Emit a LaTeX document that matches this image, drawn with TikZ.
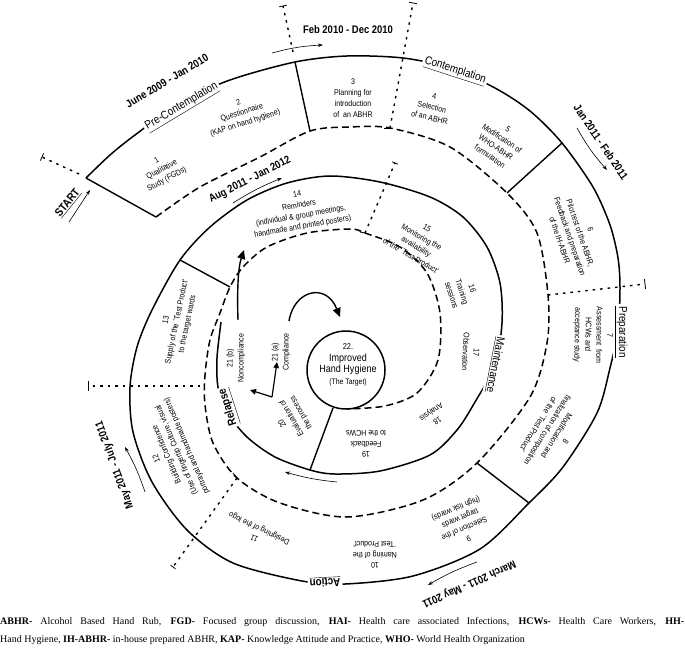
\documentclass[tikz,border=0pt]{standalone}
\usepackage{fontspec}
\setmainfont{Liberation Serif}
\newfontfamily\nsf[FakeStretch=0.86]{Liberation Sans}
\usetikzlibrary{arrows.meta,calc}
\begin{document}
\begin{tikzpicture}[x=1pt,y=-1pt,
  spiral/.style={line width=1.5pt, line join=round},
  dashline/.style={line width=1.5pt, dash pattern=on 7pt off 4pt},
  dotline/.style={line width=1.4pt, dash pattern=on 2.5pt off 5pt},
  radial/.style={line width=1.4pt},
  tbar/.style={line width=0.8pt},
  stage/.style={font=\nsf\fontsize{8.2}{10.8}\selectfont, align=center, inner sep=0pt},
  datelbl/.style={font=\nsf\bfseries\fontsize{11}{13}\selectfont, inner sep=1pt},
  phase/.style={font=\nsf\fontsize{11.5}{13}\selectfont, fill=white, inner sep=2pt},
  phasebf/.style={font=\nsf\bfseries\fontsize{11.5}{13}\selectfont, fill=white, inner sep=2pt},
  datearrow/.style={line width=0.6pt, -{Stealth[length=5pt,width=3.5pt]}},
  bigarrow/.style={line width=1.4pt, -{Triangle[length=9pt,width=8pt]}},
  midarrow/.style={line width=1.2pt, -{Triangle[length=6pt,width=5.5pt]}},
  legend/.style={anchor=west, font=\fontsize{10}{12}\selectfont, inner sep=0pt},
]
\fill[white] (0,0) rectangle (685,655);
\useasboundingbox (0,0) rectangle (685,655);

% key points
\coordinate (s0) at (86,178);
\coordinate (s23) at (295,62);
\coordinate (s56) at (562,143);
\coordinate (s67) at (620,288);
\coordinate (s89) at (529,503);
\coordinate (s1314) at (180,260);
\coordinate (s1920) at (310,470);
\coordinate (d0) at (156,217);
\coordinate (d23) at (310,131);
\coordinate (d34) at (390,128);
\coordinate (d56) at (507,193);
\coordinate (d67) at (548,295);
\coordinate (d89) at (477,463);
\coordinate (d1112) at (237,478);
\coordinate (d1213) at (200,386);
\coordinate (d1314) at (230,287);
\coordinate (d1415) at (365,233);
\coordinate (dend) at (347,409);

% solid spiral
\draw[spiral] plot[smooth, tension=0.5] coordinates {(s0) (110,155) (135,135) (180,103) (230,80) (s23) (347,56) (403,58) (450,68) (495,88) (530,111) (s56) (593,187) (610,225) (618,258) (s67) (618,330) (610,368) (597,413) (563,467) (s89) (480,549) (413,576) (345,584) (302,581) (233,563) (187,530) (152,482) (133,432) (130,387) (137,347) (152,310) (s1314) (210,227) (247,200) (287,183) (330,176) (380,182) (430,197) (463,217) (487,247) (500,283) (502,323) (495,365) (475,402) (457,430) (430,455) (380,471) (335,474) (s1920) (275,457) (247,437) (227,412) (218,387) (217,358) (221,322)};

% dashed spiral
\draw[dashline] plot[smooth, tension=0.5] coordinates {(d0) (200,187) (260,157) (d23) (350,127) (d34) (450,147) (d56) (537,233) (d67) (547,343) (530,397) (d89) (423,500) (347,517) (280,503) (d1112) (213,443) (205,405) (205,375) (210,340) (220,313) (d1314) (243,267) (267,247) (307,233) (350,229) (d1415) (400,247) (427,273) (440,313) (438,360) (417,393) (385,406) (dend)};

% central target
\node[draw, circle, line width=1.5pt, minimum size=78pt, inner sep=0pt] (c22) at (346,370) {};
\node[font=\nsf\fontsize{10.5}{11.5}\selectfont, align=center, inner sep=0pt] (t22) at (348,365)
  {{\fontsize{8.5}{10}\selectfont 22.}\\Improved\\Hand Hygiene\\{\fontsize{8}{10}\selectfont (The Target)}};

% solid radial dividers
\draw[radial] (s0) -- (d0);
\draw[radial] (s23) -- (d23);
\draw[radial] (s56) -- (d56);
\draw[radial] (d89) -- (s89);
\draw[radial] (s1314) -- (d1314);
\coordinate (c1920) at (333,408);
\draw[radial] (c1920) -- (s1920);

% dotted dividers with end bars
\coordinate (st1) at (79,174); \coordinate (st2) at (42,157);
\draw[dotline] (st1) -- (st2);
\draw[tbar] ($(st2)!4pt!90:(st1)$) -- ($(st2)!4pt!-90:(st1)$);
\coordinate (u23) at (293,52); \coordinate (t23) at (283,6);
\draw[dotline] (u23) -- (t23);
\draw[tbar] ($(t23)!4pt!90:(u23)$) -- ($(t23)!4pt!-90:(u23)$);
\coordinate (t34) at (413,3);
\draw[dotline] (d34) -- (t34);
\draw[tbar] ($(t34)!4pt!90:(d34)$) -- ($(t34)!4pt!-90:(d34)$);
\draw[tbar] (d34) -- ++(-6,0);
\coordinate (t67) at (645,284);
\draw[dotline] (d67) -- (t67);
\draw[tbar] ($(t67)!5pt!90:(d67)$) -- ($(t67)!5pt!-90:(d67)$);
\coordinate (t1112) at (173,567);
\draw[dotline] (d1112) -- (t1112);
\draw[tbar] ($(t1112)!3pt!90:(d1112)$) -- ($(t1112)!3pt!-90:(d1112)$);
\draw[tbar] (d1112) -- ++(-4,-5);
\coordinate (t1213) at (88,386);
\draw[dotline] (d1213) -- (t1213);
\draw[tbar] ($(t1213)!5pt!90:(d1213)$) -- ($(t1213)!5pt!-90:(d1213)$);
\coordinate (t1415) at (395,163);
\draw[dotline] (d1415) -- (t1415);
\draw[tbar] ($(t1415)!3pt!90:(d1415)$) -- ($(t1415)!3pt!-90:(d1415)$);
\draw[tbar] (d1415) -- ++(-5,-1);

% phase labels
\node[phasebf, rotate=51] (start) at (68,203) {\underline{START}};
\node[phase, rotate=31] (pre) at (182,107) {\underline{Pre-Contemplation}};
\node[phase, rotate=-18] (con) at (455,71) {\underline{Contemplation}};
\node[phase, rotate=-90] (prep) at (621,332) {\underline{Preparation}};
\node[phasebf, rotate=183] (act) at (325,582) {\underline{Action}};
\node[phase, rotate=-101] (main) at (495,365) {\underline{Maintenance}};
\node[phasebf, rotate=108] (rel) at (229,407) {\underline{Relapse}};

% date labels and arrows
\node[datelbl, rotate=31] (dt1) at (167,81) {June 2009 - Jan 2010};
\node[datelbl] (dt2) at (348,30) {Feb 2010 - Dec 2010};
\node[datelbl, rotate=-56] (dt3) at (601,142) {Jan 2011 - Feb 2011};
\node[datelbl, rotate=-156] (dt4) at (469,584) {March 2011 - May 2011};
\node[datelbl, rotate=110] (dt5) at (115,465) {May 2011 - July 2011};
\node[datelbl, rotate=27] (dt6) at (250,180) {Aug 2011 - Jan 2012};

\coordinate (a0s) at (69,222); \coordinate (a0e) at (90,190);
\draw[datearrow] (a0s) -- (a0e);
\coordinate (a2s) at (272,53); \coordinate (a2e) at (323,45);
\draw[datearrow] (a2s) to[bend left=6] (a2e);
\coordinate (a3s) at (577,128); \coordinate (a3e) at (607,170);
\draw[datearrow] (a3s) to[bend right=6] (a3e);
\coordinate (a4s) at (477,562); \coordinate (a4e) at (428,585);
\draw[datearrow] (a4s) to[bend right=5] (a4e);
\coordinate (a5s) at (145,492); \coordinate (a5e) at (125,447);
\draw[datearrow] (a5s) to[bend right=5] (a5e);
\coordinate (a6s) at (233,203); \coordinate (a6e) at (282,178);
\draw[datearrow] (a6s) to[bend left=5] (a6e);
\coordinate (a7s) at (337,482); \coordinate (a7e) at (285,472);
\draw[datearrow] (a7s) to[bend left=5] (a7e);

% stage texts
\node[stage, rotate=28] (n1) at (162,170) {1\\Qualitative\\Study (FGDs)};
\node[stage, rotate=18] (n2) at (242,113) {2\\Questionnaire\\(KAP on hand hygiene)};
\node[stage] (n3) at (353,98) {3\\Planning for\\introduction\\of\ \ an ABHR};
\node[stage, rotate=-13] (n4) at (432,107) {4\\Selection\\of an ABHR};
\node[stage, rotate=-34] (n5) at (499,143) {5\\Modification of\\WHO-ABHR\\formulation};
\node[stage, rotate=-71] (n6) at (575,235) {6\\Pilot test of the ABHR,\\Feedback and preparation\\of the IH-ABHR};
\node[stage, rotate=-91] (n7) at (593,335) {7\\Assessment\ \ from\\HCWs and\\acceptance study};
\node[stage, rotate=-122] (n8) at (552,433) {8\\Modification and\\finalization of composition\\of the `Test Product'};
\node[stage, rotate=-157] (n9) at (462,523) {9\\Selection of the\\target wards\\(high risk wards)};
\node[stage, rotate=180] (n10) at (375,555) {10\\Naming of the\\`Test Product'};
\node[stage, rotate=154] (n11) at (257,533) {11\\Designing of the logo};
\node[stage, rotate=113] (n12) at (172,452) {12\\Building Confidence\\(Use of fingertip Culture, visual\\portrayal and handmade posters)};
\node[stage, rotate=78] (n13) at (177,322) {13\\Supply of the `Test Product'\\to the target wards};
\node[stage, rotate=10] (n14) at (300,211) {14\\Reminders\\(individual \& group meetings,\\handmade and printed posters)};
\node[stage, rotate=-30] (n15) at (419,242) {15\\Monitoring the\\availability\\of the `Test Product'};
\node[stage, rotate=-72] (n16) at (462,292) {16\\Training\\sessions};
\node[stage, rotate=-93] (n17) at (471,352) {17\\Observation};
\node[stage, rotate=-146] (n18) at (434,416) {18\\Analysis};
\node[stage, rotate=180] (n19) at (366,444) {19\\Feedback\\to the HCWs};
\node[stage, rotate=120] (n20) at (292,418) {20\\Evaluation of\\the process};
\node[stage, rotate=90] (n21b) at (236,358) {21 (b)\\Noncompliance};
\node[stage, rotate=90] (n21a) at (281,352) {21 (a)\\Compliance};

% inner arrows
\coordinate (nc0) at (238,320); \coordinate (nc1) at (244,250);
\draw[bigarrow] (nc0) .. controls (237,292) and (238,268) .. (nc1);
\coordinate (cp0) at (289,321); \coordinate (cp1) at (340,317);
\draw[bigarrow] (cp0) .. controls (294,290) and (326,282) .. (cp1);
\coordinate (fork) at (272,397);
\coordinate (fk1) at (250,390);
\coordinate (fk2) at (274,383);
\coordinate (fk3) at (277,362);
\draw[midarrow] (fork) -- (fk1);
\draw[midarrow] (fork) -- (fk2) -- (fk3);

% legend
\node[legend] (leg1) at (0,622)
 {\makebox[684pt][s]{\textbf{ABHR-} Alcohol Based Hand Rub, \textbf{FGD-} Focused group discussion, \textbf{HAI-} Health care associated Infections, \textbf{HCWs-} Health Care Workers, \textbf{HH-}}};
\node[legend] (leg2) at (0,640)
 {Hand Hygiene, \textbf{IH-ABHR-} in-house prepared ABHR, \textbf{KAP-} Knowledge Attitude and Practice, \textbf{WHO-} World Health Organization};
\end{tikzpicture}
\end{document}
